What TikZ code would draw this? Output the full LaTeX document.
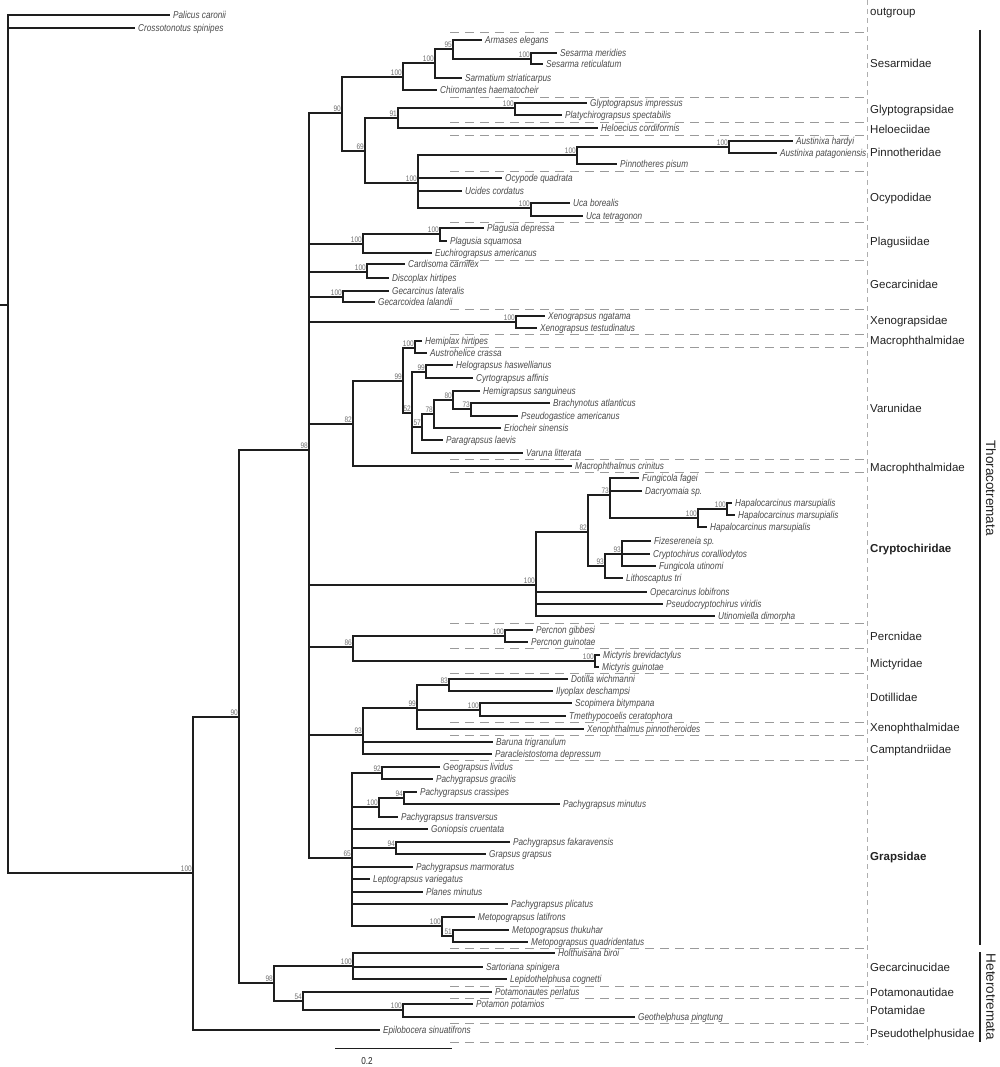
\documentclass[tikz,border=0pt]{standalone}
\usepackage{fontspec}
\setmainfont{Liberation Sans}
\newfontfamily\narfont[FakeStretch=0.82]{Liberation Sans}
\definecolor{txt}{HTML}{4A4A4A}
\definecolor{bootc}{HTML}{707070}
\definecolor{ln}{HTML}{1E1E1E}
\definecolor{dsh}{HTML}{9A9A9A}
\definecolor{famc}{HTML}{222222}
\newcommand\trnode[5]{%
  \coordinate (#2) at (#3,#4);
  \draw[br] (#1) |- (#2);
  \node[boot] (b#2) at (#2) {#5};}
\newcommand\trleaf[5]{%
  \coordinate (#2) at (#3,#4);
  \draw[br] (#1) |- (#2);
  \node[taxon] (t#2) at (#2) {#5};}
\begin{document}
\begin{tikzpicture}[x=1pt,y=-1pt,
  br/.style={draw=ln,line width=1.2pt},
  taxon/.style={anchor=base west,inner sep=0pt,xshift=3pt,yshift=-3.6pt,text=txt,font=\narfont\itshape\fontsize{10}{12}\selectfont},
  boot/.style={anchor=base east,inner sep=0pt,xshift=-1pt,yshift=1.5pt,text=bootc,font=\narfont\fontsize{8}{9}\selectfont},
  fam/.style={anchor=base west,inner sep=0pt,yshift=-4pt,text=famc,font=\fontsize{11.5}{13}\selectfont},
  dl/.style={draw=dsh,line width=0.8pt,dash pattern=on 9pt off 6pt},
  vdl/.style={draw=dsh!80,line width=0.7pt,dash pattern=on 5pt off 4pt}]
\useasboundingbox (0,0) rectangle (1000,1067);

% dashed separators
\foreach \yy in {32,97,122,135,171,222,260,309,334,347,459,472,623,648,673,722,735,760,948,986,998,1023,1042}
  \draw[dl] (450,\yy) -- (867,\yy);
\draw[vdl] (867,0) -- (867,1045);

% root
\coordinate (root) at (8,305);
\coordinate (rstub) at (0,305);
\draw[br] (rstub) -- (root);
\trleaf{root}{L1}{170}{15}{Palicus caronii}
\trleaf{root}{L2}{135}{28}{Crossotonotus spinipes}
\trnode{root}{ing}{193}{873}{100}
\trnode{ing}{n90a}{239}{717}{90}
\trnode{n90a}{thor}{309}{450}{98}
\trnode{n90a}{het}{274}{983}{98}

% Sesarmidae etc.
\trnode{thor}{n90b}{342}{113}{90}
\trnode{n90b}{sesA}{403}{77}{100}
\trnode{sesA}{sesB}{435}{63}{100}
\trnode{sesB}{n95}{453}{49}{95}
\trleaf{n95}{L3}{482}{40}{Armases elegans}
\trnode{n95}{sesm}{531}{59}{100}
\trleaf{sesm}{L4}{557}{53}{Sesarma meridies}
\trleaf{sesm}{L5}{543}{64}{Sesarma reticulatum}
\trleaf{sesB}{L6}{462}{78}{Sarmatium striaticarpus}
\trleaf{sesA}{L7}{437}{90}{Chiromantes haematocheir}
\trnode{n90b}{n69}{365}{151}{69}
\trnode{n69}{n91}{398}{118}{91}
\trnode{n91}{glyp}{515}{108}{100}
\trleaf{glyp}{L8}{587}{103}{Glyptograpsus impressus}
\trleaf{glyp}{L9}{562}{115}{Platychirograpsus spectabilis}
\trleaf{n91}{L10}{598}{128}{Heloecius cordiformis}
\trnode{n69}{ocy}{418}{183}{100}
\trnode{ocy}{pin}{577}{155}{100}
\trnode{pin}{aus}{729}{147}{100}
\trleaf{aus}{L11}{793}{141}{Austinixa hardyi}
\trleaf{aus}{L12}{777}{153}{Austinixa patagoniensis}
\trleaf{pin}{L13}{617}{164}{Pinnotheres pisum}
\trleaf{ocy}{L14}{502}{178}{Ocypode quadrata}
\trleaf{ocy}{L15}{462}{191}{Ucides cordatus}
\trnode{ocy}{uca}{531}{208}{100}
\trleaf{uca}{L16}{570}{203}{Uca borealis}
\trleaf{uca}{L17}{583}{216}{Uca tetragonon}

% Plagusiidae
\trnode{thor}{plag}{363}{244}{100}
\trnode{plag}{plagB}{440}{234}{100}
\trleaf{plagB}{L18}{484}{228}{Plagusia depressa}
\trleaf{plagB}{L19}{447}{241}{Plagusia squamosa}
\trleaf{plag}{L20}{432}{253}{Euchirograpsus americanus}

% Gecarcinidae
\trnode{thor}{card}{367}{272}{100}
\trleaf{card}{L21}{405}{264}{Cardisoma carnifex}
\trleaf{card}{L22}{389}{278}{Discoplax hirtipes}
\trnode{thor}{gec}{343}{297}{100}
\trleaf{gec}{L23}{389}{291}{Gecarcinus lateralis}
\trleaf{gec}{L24}{375}{302}{Gecarcoidea lalandii}

% Xenograpsidae
\trnode{thor}{xen}{516}{322}{100}
\trleaf{xen}{L25}{545}{316}{Xenograpsus ngatama}
\trleaf{xen}{L26}{537}{328}{Xenograpsus testudinatus}

% Varunidae + Macrophthalmidae
\trnode{thor}{n82a}{353}{424}{82}
\trnode{n82a}{n99a}{403}{381}{99}
\trnode{n99a}{hem}{415}{348}{100}
\trleaf{hem}{L27}{422}{341}{Hemiplax hirtipes}
\trleaf{hem}{L28}{427}{353}{Austrohelice crassa}
\trnode{n99a}{n52}{412}{413}{52}
\trnode{n52}{n99b}{426}{372}{99}
\trleaf{n99b}{L29}{453}{365}{Helograpsus haswellianus}
\trleaf{n99b}{L30}{473}{378}{Cyrtograpsus affinis}
\trnode{n52}{n57}{422}{427}{57}
\trnode{n57}{n78}{434}{414}{78}
\trnode{n78}{n80}{453}{400}{80}
\trleaf{n80}{L31}{480}{391}{Hemigrapsus sanguineus}
\trnode{n80}{n73a}{471}{409}{73}
\trleaf{n73a}{L32}{550}{403}{Brachynotus atlanticus}
\trleaf{n73a}{L33}{518}{416}{Pseudogastice americanus}
\trleaf{n78}{L34}{501}{428}{Eriocheir sinensis}
\trleaf{n57}{L35}{443}{440}{Paragrapsus laevis}
\trleaf{n52}{L36}{523}{453}{Varuna litterata}
\trleaf{n82a}{L37}{572}{466}{Macrophthalmus crinitus}

% Cryptochiridae
\trnode{thor}{cry}{536}{585}{100}
\trnode{cry}{n82b}{588}{532}{82}
\trnode{n82b}{n73b}{610}{495}{73}
\trleaf{n73b}{L38}{639}{478}{Fungicola fagei}
\trleaf{n73b}{L39}{642}{491}{Dacryomaia sp.}
\trnode{n73b}{hapA}{698}{518}{100}
\trnode{hapA}{hapB}{727}{509}{100}
\trleaf{hapB}{L40}{732}{503}{Hapalocarcinus marsupialis}
\trleaf{hapB}{L41}{735}{515}{Hapalocarcinus marsupialis}
\trleaf{hapA}{L42}{707}{527}{Hapalocarcinus marsupialis}
\trnode{n82b}{n93a}{605}{566}{93}
\trnode{n93a}{n93b}{622}{554}{93}
\trleaf{n93b}{L43}{651}{541}{Fizesereneia sp.}
\trleaf{n93b}{L44}{650}{554}{Cryptochirus coralliodytos}
\trleaf{n93b}{L45}{656}{566}{Fungicola utinomi}
\trleaf{n93a}{L46}{623}{578}{Lithoscaptus tri}
\trleaf{cry}{L47}{647}{592}{Opecarcinus lobifrons}
\trleaf{cry}{L48}{663}{604}{Pseudocryptochirus viridis}
\trleaf{cry}{L49}{715}{616}{Utinomiella dimorpha}

% Percnidae, Mictyridae
\trnode{thor}{n86}{353}{647}{86}
\trnode{n86}{per}{505}{636}{100}
\trleaf{per}{L50}{533}{630}{Percnon gibbesi}
\trleaf{per}{L51}{528}{642}{Percnon guinotae}
\trnode{n86}{mic}{595}{661}{100}
\trleaf{mic}{L52}{600}{655}{Mictyris brevidactylus}
\trleaf{mic}{L53}{599}{667}{Mictyris guinotae}

% Dotillidae etc.
\trnode{thor}{n93c}{363}{735}{93}
\trnode{n93c}{n99c}{417}{708}{99}
\trnode{n99c}{n83}{449}{685}{83}
\trleaf{n83}{L54}{568}{679}{Dotilla wichmanni}
\trleaf{n83}{L55}{553}{691}{Ilyoplax deschampsi}
\trnode{n99c}{sco}{480}{710}{100}
\trleaf{sco}{L56}{572}{703}{Scopimera bitympana}
\trleaf{sco}{L57}{566}{716}{Tmethypocoelis ceratophora}
\trleaf{n99c}{L58}{584}{729}{Xenophthalmus pinnotheroides}
\trleaf{n93c}{L59}{493}{742}{Baruna trigranulum}
\trleaf{n93c}{L60}{492}{754}{Paracleistostoma depressum}

% Grapsidae
\trnode{thor}{n65}{352}{858}{65}
\trnode{n65}{n92}{382}{773}{92}
\trleaf{n92}{L61}{440}{767}{Geograpsus lividus}
\trleaf{n92}{L62}{433}{779}{Pachygrapsus gracilis}
\trnode{n65}{n100g}{379}{807}{100}
\trnode{n100g}{n94a}{404}{798}{94}
\trleaf{n94a}{L63}{417}{792}{Pachygrapsus crassipes}
\trleaf{n94a}{L64}{560}{804}{Pachygrapsus minutus}
\trleaf{n100g}{L65}{398}{817}{Pachygrapsus transversus}
\trleaf{n65}{L66}{428}{829}{Goniopsis cruentata}
\trnode{n65}{n94b}{396}{848}{94}
\trleaf{n94b}{L67}{510}{842}{Pachygrapsus fakaravensis}
\trleaf{n94b}{L68}{486}{854}{Grapsus grapsus}
\trleaf{n65}{L69}{413}{867}{Pachygrapsus marmoratus}
\trleaf{n65}{L70}{370}{879}{Leptograpsus variegatus}
\trleaf{n65}{L71}{423}{892}{Planes minutus}
\trleaf{n65}{L72}{508}{904}{Pachygrapsus plicatus}
\trnode{n65}{met}{442}{926}{100}
\trleaf{met}{L73}{475}{917}{Metopograpsus latifrons}
\trnode{met}{n51}{453}{936}{51}
\trleaf{n51}{L74}{509}{930}{Metopograpsus thukuhar}
\trleaf{n51}{L75}{528}{942}{Metopograpsus quadridentatus}

% Heterotremata
\trnode{het}{hol}{353}{966}{100}
\trleaf{hol}{L76}{555}{953}{Holthuisana biroi}
\trleaf{hol}{L77}{483}{967}{Sartoriana spinigera}
\trleaf{hol}{L78}{507}{979}{Lepidothelphusa cognetti}
\trnode{het}{n54}{303}{1001}{54}
\trleaf{n54}{L79}{492}{992}{Potamonautes perlatus}
\trnode{n54}{pot}{403}{1010}{100}
\trleaf{pot}{L80}{473}{1004}{Potamon potamios}
\trleaf{pot}{L81}{635}{1017}{Geothelphusa pingtung}
\trleaf{ing}{L82}{380}{1030}{Epilobocera sinuatifrons}

% scale bar
\coordinate (scL) at (335,1048);
\coordinate (scR) at (452,1048);
\draw[br,line width=1pt] (scL) -- (scR);
\node[anchor=base,inner sep=0pt,text=famc,font=\narfont\fontsize{10}{12}\selectfont] (scT) at (367,1064) {0.2};

% family labels
\node[fam] (f1) at (870,12) {outgroup};
\node[fam] (f2) at (870,64) {Sesarmidae};
\node[fam] (f3) at (870,110) {Glyptograpsidae};
\node[fam] (f4) at (870,130) {Heloeciidae};
\node[fam] (f5) at (870,153) {Pinnotheridae};
\node[fam] (f6) at (870,198) {Ocypodidae};
\node[fam] (f7) at (870,241) {Plagusiidae};
\node[fam] (f8) at (870,284) {Gecarcinidae};
\node[fam] (f9) at (870,320) {Xenograpsidae};
\node[fam] (f10) at (870,340) {Macrophthalmidae};
\node[fam] (f11) at (870,408) {Varunidae};
\node[fam] (f12) at (870,467) {Macrophthalmidae};
\node[fam,font=\bfseries\fontsize{11.5}{13}\selectfont] (f13) at (870,548) {Cryptochiridae};
\node[fam] (f14) at (870,636) {Percnidae};
\node[fam] (f15) at (870,663) {Mictyridae};
\node[fam] (f16) at (870,697) {Dotillidae};
\node[fam] (f17) at (870,727) {Xenophthalmidae};
\node[fam] (f18) at (870,749) {Camptandriidae};
\node[fam,font=\bfseries\fontsize{11.5}{13}\selectfont] (f19) at (870,856) {Grapsidae};
\node[fam] (f20) at (870,967) {Gecarcinucidae};
\node[fam] (f21) at (870,992) {Potamonautidae};
\node[fam] (f22) at (870,1010) {Potamidae};
\node[fam] (f23) at (870,1033) {Pseudothelphusidae};

% suborder bars
\coordinate (thT) at (980,30);
\coordinate (thB) at (980,945);
\coordinate (heT) at (980,952);
\coordinate (heB) at (980,1042);
\draw[br,line width=1.3pt] (thT) -- (thB);
\draw[br,line width=1.3pt] (heT) -- (heB);
\node[text=famc,font=\fontsize{13.5}{15}\selectfont,rotate=-90,anchor=center,inner sep=0pt] (thl) at (991,488) {Thoracotremata};
\node[text=famc,font=\fontsize{13.5}{15}\selectfont,rotate=-90,anchor=center,inner sep=0pt] (hel) at (991,997) {Heterotremata};
\end{tikzpicture}
\end{document}
